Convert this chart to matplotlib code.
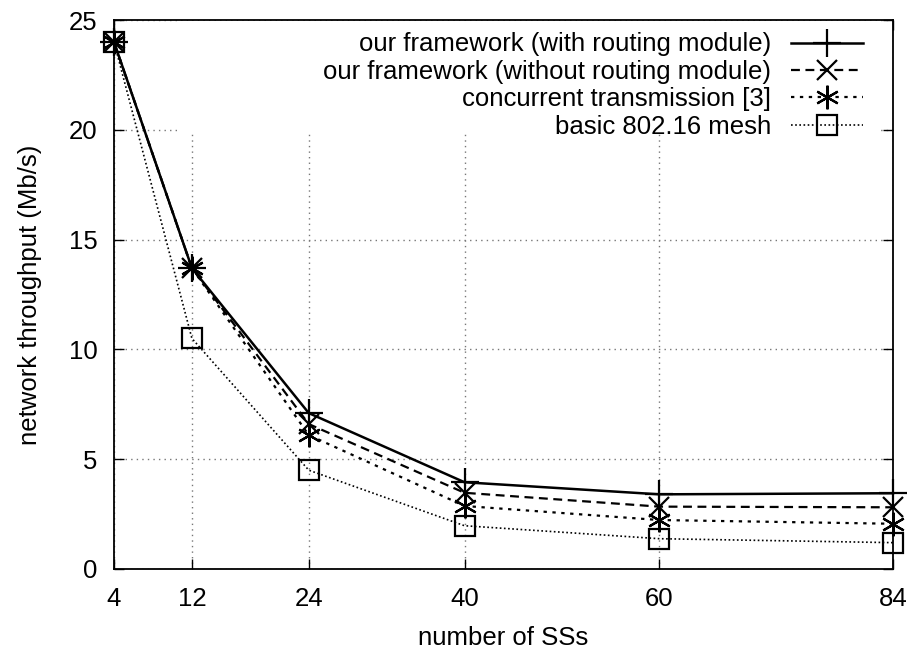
import matplotlib
matplotlib.use("Agg")
import matplotlib.pyplot as plt
from matplotlib.patches import Rectangle

# --- data ---
n_ss = [4, 12, 24, 40, 60, 84]
with_routing = [24.0, 13.7, 7.1, 3.95, 3.40, 3.45]
without_routing = [24.0, 13.7, 6.6, 3.47, 2.84, 2.81]
concurrent = [24.0, 13.7, 6.1, 2.87, 2.23, 2.06]
basic_mesh = [24.0, 10.5, 4.5, 1.97, 1.38, 1.20]

labels = [
    "our framework (with routing module)",
    "our framework (without routing module)",
    "concurrent transmission [3]",
    "basic 802.16 mesh",
]
y_ticks = [0, 5, 10, 15, 20, 25]

plt.rcParams["font.family"] = ["Liberation Sans", "DejaVu Sans"]
plt.rcParams["font.size"] = 18.5

fig = plt.figure(figsize=(9.15, 6.51), dpi=100)
ax = fig.add_axes([114 / 915, 1 - 569 / 651, 779 / 915, 549 / 651])

ax.plot(n_ss, with_routing, color="black", lw=1.8, ls="-", clip_on=False,
        marker="+", ms=20, mew=1.6, label=labels[0], zorder=5)
ax.plot(n_ss, without_routing, color="black", lw=1.6, ls=(0, (4, 2.5)), clip_on=False,
        marker="x", ms=15, mew=1.6, label=labels[1], zorder=5)
ax.plot(n_ss, concurrent, color="black", lw=1.6, ls=(0, (1.5, 2.5)), clip_on=False,
        marker=(6, 2, 0), ms=17, mew=1.6, label=labels[2], zorder=5)
ax.plot(n_ss, basic_mesh, color="black", lw=1.2, ls=(0, (1, 1.5)), clip_on=False,
        marker="s", ms=14, mew=1.6, mfc="none", label=labels[3], zorder=5)

ax.set_xlim(4, 84)
ax.set_ylim(0, 25)
ax.set_xticks(n_ss)
ax.set_yticks(y_ticks)
ax.tick_params(direction="in", length=7, width=1, top=True, right=True)
ax.tick_params(axis="x", pad=13)
ax.tick_params(axis="y", pad=12)
ax.grid(True, color="#777777", ls=(0, (1, 3)), lw=1)
ax.set_axisbelow(True)
for s in ax.spines.values():
    s.set_linewidth(1.3)

ax.set_xlabel("number of SSs", labelpad=11)
ax.set_ylabel("network throughput (Mb/s)", labelpad=19)

# opaque key area like gnuplot
ax.add_patch(Rectangle((0.082, 0.794), 0.898, 0.205, transform=ax.transAxes,
                       facecolor="white", edgecolor="none", zorder=2))

leg = ax.legend(loc="upper right", bbox_to_anchor=(0.985, 1.01), frameon=False,
                markerfirst=False, handlelength=2.8, handletextpad=0.8,
                labelspacing=0.13, borderaxespad=0.3)
for t in leg.get_texts():
    t.set_ha("right")
leg._legend_box.align = "right"
leg.set_zorder(6)

fig.savefig("out.png", dpi=100)
